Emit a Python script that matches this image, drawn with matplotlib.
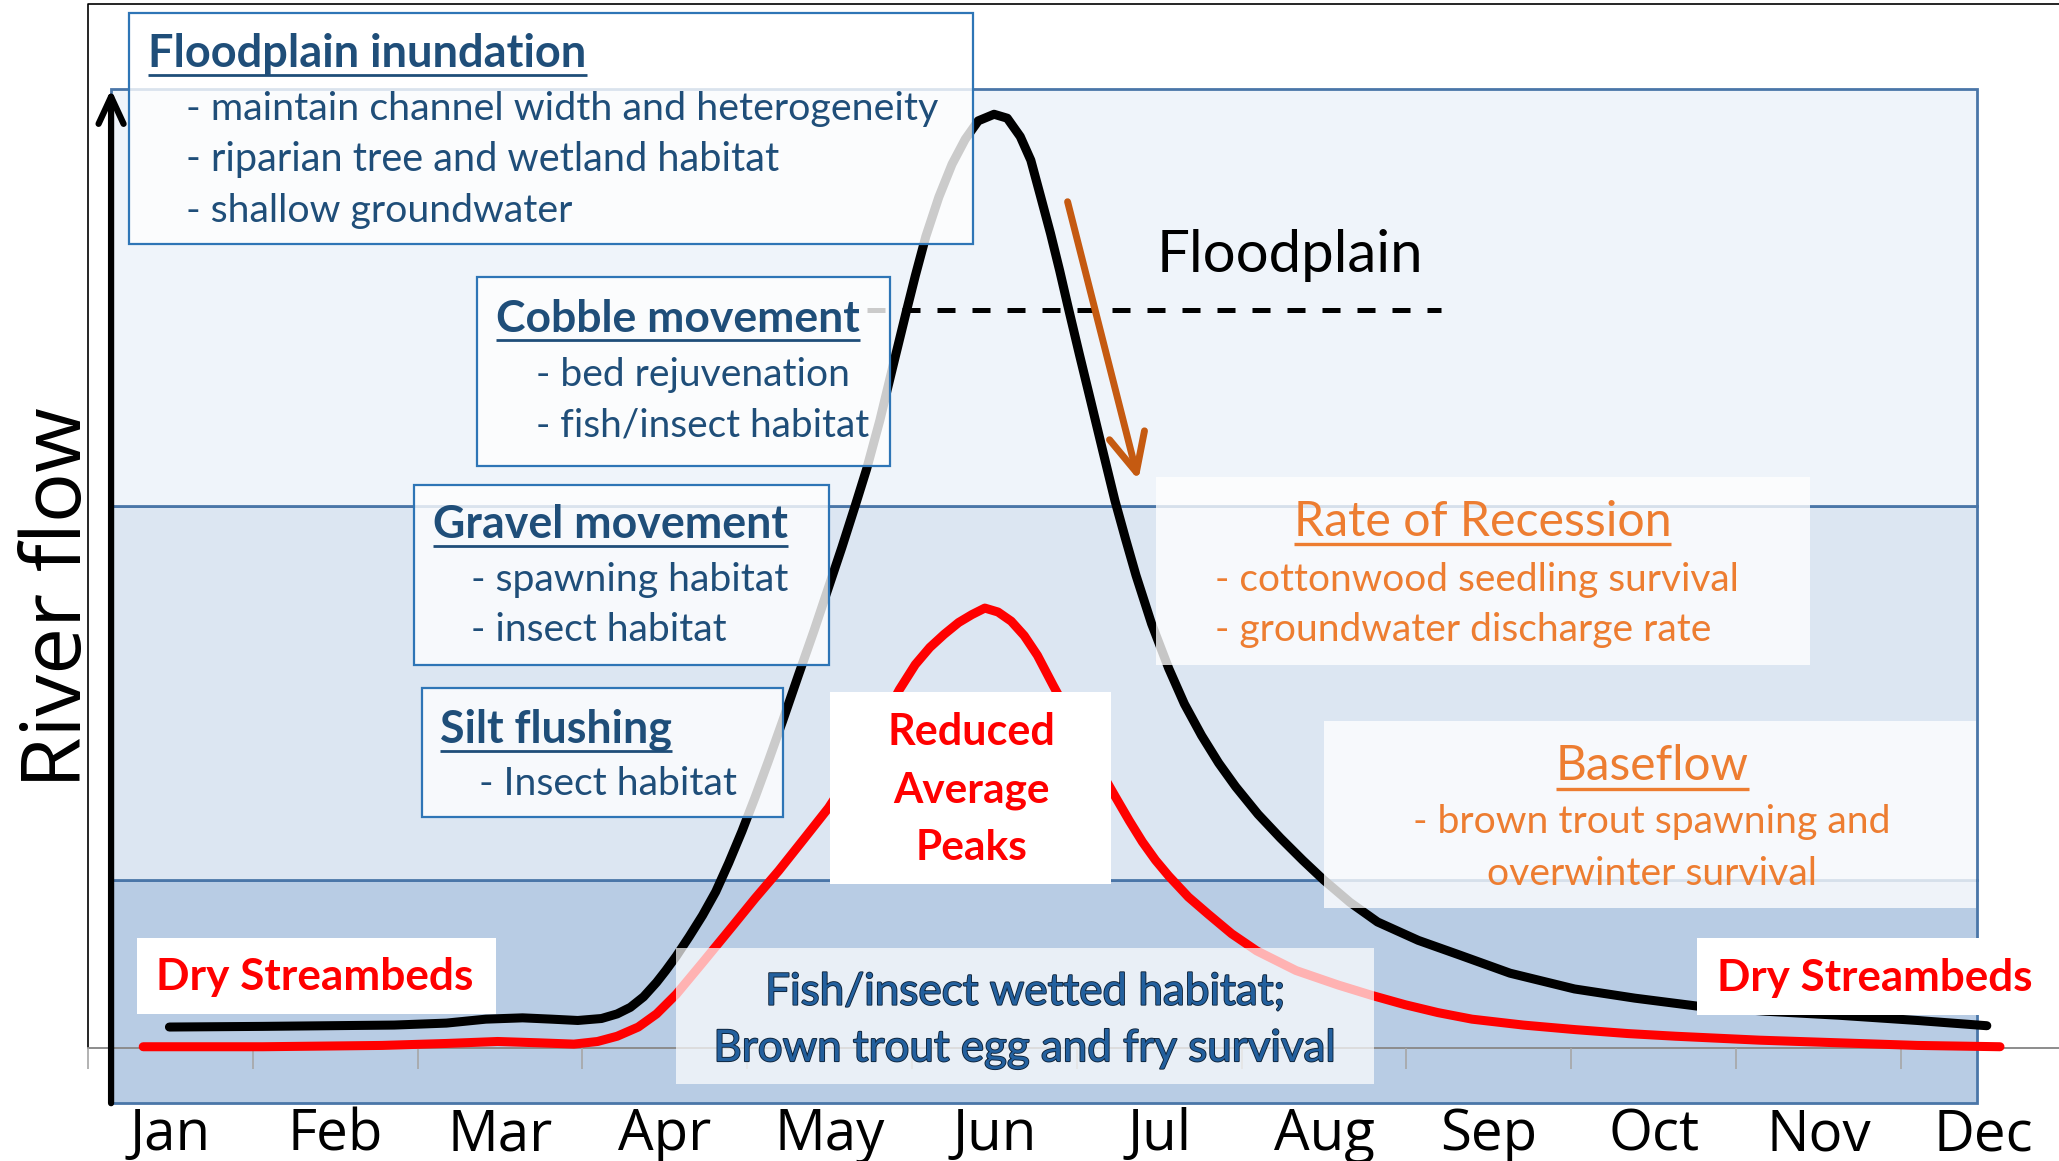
import matplotlib
matplotlib.use("Agg")
import matplotlib.pyplot as plt
import matplotlib.patheffects as pe
from matplotlib.patches import Rectangle

months = ["Jan", "Feb", "Mar", "Apr", "May", "Jun", "Jul", "Aug", "Sep", "Oct", "Nov", "Dec"]

# natural hydrograph (black); x in months from start of Jan, flow in arbitrary units
natural_x = [0.494, 1.060, 1.458, 1.857, 2.175, 2.414, 2.637, 2.813, 2.972, 3.116,
             3.211, 3.291, 3.371, 3.450, 3.506, 3.570, 3.649, 3.729, 3.809, 3.888,
             3.968, 4.048, 4.127, 4.215, 4.311, 4.406, 4.494, 4.574, 4.653, 4.725,
             4.805, 4.884, 4.964, 5.020, 5.084, 5.163, 5.243, 5.323, 5.402, 5.498,
             5.578, 5.657, 5.721, 5.777, 5.841, 5.896, 5.944, 6.016, 6.080, 6.159,
             6.231, 6.295, 6.359, 6.454, 6.558, 6.653, 6.757, 6.861, 6.964, 7.100,
             7.235, 7.371, 7.498, 7.657, 7.825, 8.072, 8.319, 8.629, 9.020, 9.386,
             9.761, 10.183, 10.622, 11.100, 11.522]
natural_flow = [0.16, 0.165, 0.17, 0.175, 0.19, 0.22, 0.23, 0.22, 0.21, 0.225,
                0.26, 0.31, 0.39, 0.50, 0.59, 0.70, 0.85, 1.01, 1.19, 1.41,
                1.65, 1.91, 2.18, 2.49, 2.84, 3.18, 3.51, 3.81, 4.12, 4.41,
                4.78, 5.19, 5.60, 5.88, 6.18, 6.48, 6.73, 6.92, 7.06, 7.11,
                7.08, 6.94, 6.76, 6.50, 6.20, 5.92, 5.66, 5.28, 4.95, 4.54,
                4.17, 3.88, 3.60, 3.23, 2.89, 2.62, 2.38, 2.17, 1.99, 1.78,
                1.60, 1.43, 1.28, 1.11, 0.96, 0.82, 0.71, 0.57, 0.45, 0.38,
                0.32, 0.28, 0.25, 0.21, 0.17]

# reduced hydrograph (red)
reduced_x = [0.335, 1.060, 1.785, 2.175, 2.486, 2.733, 2.948, 3.092, 3.211, 3.339,
             3.450, 3.570, 3.729, 3.912, 4.048, 4.191, 4.343, 4.494, 4.614, 4.725,
             4.829, 4.924, 5.020, 5.108, 5.195, 5.283, 5.363, 5.442, 5.522, 5.602,
             5.681, 5.761, 5.857, 5.952, 6.040, 6.135, 6.231, 6.319, 6.398, 6.478,
             6.558, 6.677, 6.797, 6.940, 7.092, 7.331, 7.586, 7.793, 7.992, 8.191,
             8.398, 8.709, 9.028, 9.347, 9.633, 10.143, 10.622, 11.100, 11.602]
reduced_flow = [0.01, 0.01, 0.02, 0.035, 0.05, 0.04, 0.03, 0.05, 0.09, 0.16,
                0.26, 0.41, 0.65, 0.93, 1.14, 1.35, 1.59, 1.83, 2.06, 2.28,
                2.51, 2.73, 2.92, 3.05, 3.15, 3.24, 3.30, 3.35, 3.32, 3.25,
                3.14, 2.99, 2.76, 2.54, 2.34, 2.13, 1.92, 1.73, 1.57, 1.43,
                1.31, 1.15, 1.02, 0.87, 0.74, 0.59, 0.48, 0.40, 0.33, 0.27,
                0.22, 0.175, 0.14, 0.11, 0.09, 0.06, 0.04, 0.02, 0.01]

# flow bands: baseflow / gravel+silt / cobble+floodplain
band_edges = [-0.42, 1.28, 4.13, 7.30]
band_colors = ["#B8CCE4", "#DCE6F2", "#EFF4FA"]
band_x = [0.14, 11.46]
floodplain_level = 5.62
floodplain_x = [4.725, 8.207]

W, H = 2059, 1161
fig = plt.figure(figsize=(W / 100, H / 100), dpi=100)
ax = fig.add_axes([0, 0, 1, 1])
ax.set_xlim(-0.534, 11.96)
ax.set_ylim(-0.86, 7.98)
ax.axis("off")
r = fig.canvas.get_renderer()

navy = "#1F4E79"
orange = "#ED7D31"
blue_edge = "#2E75B6"


def pos(x, y):
    # pixel in the 1568x884 view of the reference -> axes fraction
    return x / 1568, 1 - y / 884


def box(x0, y0, x1, y1, alpha=0.8, edge="none"):
    x, y = pos(x0, y1)
    ax.add_patch(Rectangle((x, y), (x1 - x0) / 1568, (y1 - y0) / 884, transform=ax.transAxes,
                           facecolor=(1, 1, 1, alpha), edgecolor=edge, lw=1.6, zorder=5))


def put(x, y, s, width, ha="left", family="Lato", **kw):
    t = ax.text(*pos(x, y), s, transform=ax.transAxes, ha=ha, va="baseline",
                fontsize=20, family=family, zorder=6, **kw)
    t.set_fontsize(20 * width * W / 1568 / t.get_window_extent(r).width)
    return t


def underline(t, y, color, lw=2.0):
    bb = t.get_window_extent(r)
    ax.plot([bb.x0 / W, bb.x1 / W], [1 - y / 884] * 2, transform=ax.transAxes,
            color=color, lw=lw, solid_capstyle="butt", zorder=6)


# bands
for lo, hi, c in zip(band_edges[:-1], band_edges[1:], band_colors):
    ax.add_patch(Rectangle((band_x[0], lo), band_x[1] - band_x[0], hi - lo,
                           facecolor=c, edgecolor="#4A76A8", lw=2, zorder=1))

# chart frame, baseline and ticks
ax.plot([0, 0, 12], [0, 7.95, 7.95], color="black", lw=1.2, zorder=2)
ax.plot([0, 12], [0, 0], color="#8C8C8C", lw=1.4, zorder=2)
ax.vlines(range(13), -0.16, 0, color="#A6A6A6", lw=1.2, zorder=2)

ax.plot(floodplain_x, [floodplain_level] * 2, color="black", lw=3.6,
        ls=(0, (3.6, 3.4)), zorder=2.5)

ax.plot(natural_x, natural_flow, color="black", lw=6.5,
        solid_capstyle="round", solid_joinstyle="round", zorder=3)
ax.plot(reduced_x, reduced_flow, color="#FF0000", lw=6.5,
        solid_capstyle="round", solid_joinstyle="round", zorder=3)

# y axis arrow
ax.annotate("", xy=(band_x[0], band_edges[-1]), xytext=(band_x[0], band_edges[0]),
            arrowprops=dict(arrowstyle="->,head_length=1.95,head_width=0.9", mutation_scale=10,
                            lw=4.5, color="black", shrinkA=0, shrinkB=0,
                            capstyle="round", joinstyle="round"), zorder=4)
# recession arrow
ax.annotate("", xy=pos(866.9, 365.5), xytext=pos(813, 153.6),
            xycoords="axes fraction", textcoords="axes fraction",
            arrowprops=dict(arrowstyle="->,head_length=2.74,head_width=1.3", mutation_scale=10,
                            lw=5, color="#C55A11", shrinkA=0, shrinkB=0,
                            capstyle="round", joinstyle="round"), zorder=4)

# blue boxes
box(98, 10, 741, 186, edge=blue_edge)
t = put(113, 51, "Floodplain inundation", 333, color=navy, weight="bold")
underline(t, 57, navy)
put(142, 91, "- maintain channel width and heterogeneity", 576, color=navy)
put(142, 130, "- riparian tree and wetland habitat", 454, color=navy)
put(142, 169, "- shallow groundwater", 295, color=navy)

box(363, 211, 678, 355, edge=blue_edge)
t = put(378, 253, "Cobble movement", 277, color=navy, weight="bold")
underline(t, 259, navy)
put(408, 294, "- bed rejuvenation", 240, color=navy)
put(408, 332, "- fish/insect habitat", 254, color=navy)

box(315, 369, 631, 506, edge=blue_edge)
t = put(330, 410, "Gravel movement", 269, color=navy, weight="bold")
underline(t, 416, navy)
put(359, 450, "- spawning habitat", 242, color=navy)
put(359, 488, "- insect habitat", 195, color=navy)

box(321, 524, 596, 622, edge=blue_edge)
t = put(335, 565, "Silt flushing", 177, color=navy, weight="bold")
underline(t, 572, navy)
put(365, 605, "- Insect habitat", 197, color=navy)

# orange boxes
box(880, 363, 1378, 506, alpha=0.78)
t = put(1129, 408, "Rate of Recession", 288, ha="center", color=orange)
underline(t, 414, orange, 2.4)
put(925, 450, "- cottonwood seedling survival", 400, color=orange)
put(925, 488, "- groundwater discharge rate", 379, color=orange)

box(1008, 549, 1505, 691, alpha=0.78)
t = put(1258.5, 594, "Baseflow", 147, ha="center", color=orange)
underline(t, 601, orange, 2.4)
put(1257.5, 634, "- brown trout spawning and", 365, ha="center", color=orange)
put(1258, 674, "overwinter survival", 252, ha="center", color=orange)

# red labels
box(632, 527, 846, 673, alpha=1)
put(739.5, 567, "Reduced", 128, ha="center", color="#FF0000", weight="bold")
put(739.5, 611, "Average", 119, ha="center", color="#FF0000", weight="bold")
put(739.5, 655, "Peaks", 85, ha="center", color="#FF0000", weight="bold")

box(104, 714, 378, 772, alpha=1)
put(119, 754, "Dry Streambeds", 242, color="#FF0000", weight="bold")
box(1292, 714, 1580, 773, alpha=1)
put(1307.6, 754.7, "Dry Streambeds", 241, color="#FF0000", weight="bold")

# wetted habitat box
box(515, 722, 1046, 825, alpha=0.7)
outline = [pe.withStroke(linewidth=1.3, foreground="#0E2238")]
put(781, 765, "Fish/insect wetted habitat;", 397, ha="center", color="#23609E", path_effects=outline)
put(780.5, 808, "Brown trout egg and fry survival", 475, ha="center", color="#23609E", path_effects=outline)

put(881, 207, "Floodplain", 203, color="black")

# month labels
labels = [ax.text(i + 0.5, -0.78, m, ha="center", va="baseline", family="Open Sans",
                  fontsize=20, zorder=6) for i, m in enumerate(months)]
size = 20 * 84 * W / 1568 / labels[4].get_window_extent(r).width
for t in labels:
    t.set_fontsize(size)

t = ax.text(*pos(62, 455), "River flow", transform=ax.transAxes, rotation=90,
            rotation_mode="anchor", ha="center", va="baseline", family="Open Sans", fontsize=20)
t.set_fontsize(20 * 290 * W / 1568 / t.get_window_extent(r).height)

fig.savefig("out.png", dpi=100)
